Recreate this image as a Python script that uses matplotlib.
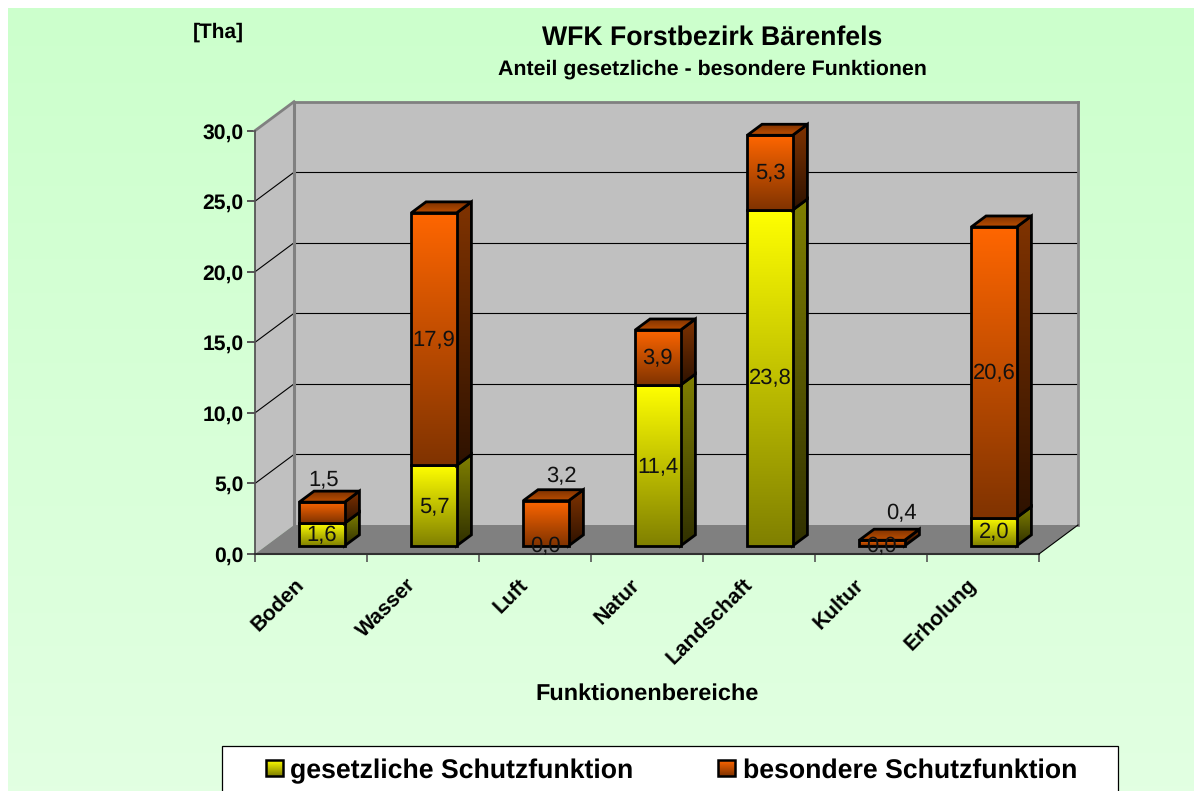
import numpy as np
import matplotlib
matplotlib.use("Agg")
import matplotlib.pyplot as plt
from matplotlib.colors import LinearSegmentedColormap
from matplotlib.patches import Polygon, Rectangle
from matplotlib.transforms import ScaledTranslation

plt.rcParams['font.family'] = ['Liberation Sans', 'DejaVu Sans']
plt.rcParams['text.hinting'] = 'no_hinting'

categories = ["Boden", "Wasser", "Luft", "Natur", "Landschaft", "Kultur", "Erholung"]
gesetzlich = [1.6, 5.7, 0.0, 11.4, 23.8, 0.0, 2.0]
besonders = [1.5, 17.9, 3.2, 3.9, 5.3, 0.4, 20.6]
label_g = ["1,6", "5,7", "0,0", "11,4", "23,8", "0,0", "2,0"]
label_b = ["1,5", "17,9", "3,2", "3,9", "5,3", "0,4", "20,6"]
yticks = [0, 5, 10, 15, 20, 25, 30]
ylabels = ["0,0", "5,0", "10,0", "15,0", "20,0", "25,0", "30,0"]
series_names = ["gesetzliche Schutzfunktion", "besondere Schutzfunktion"]
title = "WFK Forstbezirk Bärenfels"
subtitle = "Anteil gesetzliche - besondere Funktionen"
xlabel = "Funktionenbereiche"
unit = "[Tha]"

W, H = 1194, 791
fig = plt.figure(figsize=(W / 100, H / 100), dpi=100, facecolor="white")


def grad(c1, c2):
    return LinearSegmentedColormap.from_list("g", [c1, c2])


# background + page-level items, in pixel coordinates
bg = fig.add_axes([0, 0, 1, 1], zorder=0)
bg.axis("off")
bg.imshow(np.linspace(0, 1, 256).reshape(-1, 1), cmap=grad("#CCFFCC", "#E2FFE2"),
          extent=[8, W, H, 8], aspect="auto", interpolation="bilinear", origin="upper", zorder=0)
bg.text(712.5, 38, title, ha="center", va="center", fontsize=19.15, fontweight="bold")
bg.text(712, 69, subtitle, ha="center", va="center", fontsize=15.4, fontweight="bold")
bg.text(218.5, 32.5, unit, ha="center", va="center", fontsize=15, fontweight="bold")
bg.text(647, 693.5, xlabel, ha="center", va="center", fontsize=16.9, fontweight="bold")

# legend
bg.add_patch(Rectangle((222, 746), 896, 46, fc="white", ec="black", lw=0.9, zorder=1))
for x0, name, c1, c2, xt in [(266, series_names[0], "#FFFF00", "#808000", 290),
                             (718, series_names[1], "#FF6600", "#803300", 743)]:
    bg.imshow(np.linspace(0, 1, 64).reshape(-1, 1), cmap=grad(c1, c2),
              extent=[x0, x0 + 17, 776, 760], aspect="auto", origin="upper", zorder=2)
    bg.add_patch(Rectangle((x0, 760), 17, 16, fc="none", ec="black", lw=1.8, zorder=3))
    bg.text(xt, 778, name, ha="left", va="baseline", fontsize=19.2, fontweight="bold", zorder=3)
bg.set_xlim(0, W)
bg.set_ylim(H, 0)

# plot axes: the front plane of the 3-D box
X0, X1, Y0, Y30 = 255, 1039, 554, 130.7
ax = fig.add_axes([X0 / W, 1 - Y0 / H, (X1 - X0) / W, (Y0 - Y30) / H], zorder=1)
ax.patch.set_visible(False)
for s in ax.spines.values():
    s.set_visible(False)
XMAX, YMAX = len(categories), 30
DX = 39 / ((X1 - X0) / XMAX)          # depth offset in data units
DY = 29 / ((Y0 - Y30) / YMAX)


def P(x, v, d):
    return (x + d * DX, v + d * DY)


def face(points, color):
    ax.add_patch(Polygon(points, closed=True, fc=color, ec="none", clip_on=False, zorder=1))


# walls and floor
face([P(0, 0, 0), P(0, 0, 1), P(0, YMAX, 1), P(0, YMAX, 0)], "#C0C0C0")
face([P(0, 0, 1), P(XMAX, 0, 1), P(XMAX, YMAX, 1), P(0, YMAX, 1)], "#C0C0C0")
face([P(0, 0, 0), P(XMAX, 0, 0), P(XMAX, 0, 1), P(0, 0, 1)], "#808080")


def line(a, b, color="black", lw=0.8, z=2):
    ax.plot([a[0], b[0]], [a[1], b[1]], color=color, lw=lw, clip_on=False, zorder=z,
            solid_capstyle="projecting")


for v in yticks[1:-1]:
    line(P(0, v, 0), P(0, v, 1))
    line(P(0, v, 1), P(XMAX, v, 1))
line(P(0, YMAX, 0), P(0, YMAX, 1), "#808080", 2)
line(P(0, YMAX, 1), P(XMAX, YMAX, 1), "#808080", 2)
line(P(0, 0, 1), P(0, YMAX, 1), "#808080", 2.2)
line(P(XMAX, 0, 1), P(XMAX, YMAX, 1), "#808080", 2)
line(P(0, 0, 0), P(0, YMAX, 0), "#555555", 1.3, 2.5)
line(P(0, 0, 0), P(XMAX, 0, 0), "#303030", 1.5, 2.5)
line(P(XMAX, 0, 0), P(XMAX, 0, 1), "black", 0.8, 2.5)

FRONT, BACK, BW = 0.28, 0.66, 0.405


def gradient_face(points, c1, c2, z):
    pts = np.array(points)
    poly = Polygon(points, closed=True, transform=ax.transData)
    im = ax.imshow(np.linspace(0, 1, 128).reshape(-1, 1), cmap=grad(c1, c2),
                   extent=[pts[:, 0].min(), pts[:, 0].max(), pts[:, 1].min(), pts[:, 1].max()],
                   origin="upper", aspect="auto", interpolation="bilinear", zorder=z)
    im.set_clip_box(fig.bbox)
    im.set_clip_path(poly)
    ax.add_patch(Polygon(points, closed=True, fc="none", ec="black", lw=2.0,
                         joinstyle="miter", clip_on=False, zorder=z + 0.01))


def segment(i, lo, hi, colors, z):
    left, right = i + 0.5 - BW / 2, i + 0.5 + BW / 2
    # side
    gradient_face([P(right, lo, FRONT), P(right, lo, BACK), P(right, hi, BACK), P(right, hi, FRONT)],
                  colors[2], colors[3], z)
    # front
    gradient_face([P(left, lo, FRONT), P(right, lo, FRONT), P(right, hi, FRONT), P(left, hi, FRONT)],
                  colors[0], colors[1], z + 0.02)


YEL = ("#FFFF00", "#808000", "#808000", "#303000")
ORA = ("#FF6600", "#803300", "#803300", "#2E1200")

for i in range(len(categories)):
    z = 3 + i
    g, b = gesetzlich[i], besonders[i]
    left, right = i + 0.5 - BW / 2, i + 0.5 + BW / 2
    if g > 0:
        segment(i, 0, g, YEL, z)
    segment(i, g, g + b, ORA, z + 0.1)
    top = g + b
    gradient_face([P(left, top, FRONT), P(right, top, FRONT), P(right, top, BACK), P(left, top, BACK)],
                  "#7A3000", "#BC4E00", z + 0.2)

# data labels: (dx, dy) pixel shifts from the segment middle on the bar front
shift_b = {0: (2, 34), 2: (16, 48), 5: (20, 31)}
for i in range(len(categories)):
    g, b = gesetzlich[i], besonders[i]
    anchor = P(i + 0.5, g / 2, FRONT)
    ax.annotate(label_g[i], anchor, xytext=(0, -1), textcoords="offset pixels", ha="center",
                va="center", fontsize=15.8, color="#111111", zorder=30, annotation_clip=False)
    anchor = P(i + 0.5, g + b / 2, FRONT)
    sx, sy = shift_b.get(i, (0, 0))
    ax.annotate(label_b[i], anchor, xytext=(sx, sy - 1), textcoords="offset pixels", ha="center",
                va="center", fontsize=15.8, color="#111111", zorder=30, annotation_clip=False)

ax.set_xlim(0, XMAX)
ax.set_ylim(0, YMAX)
ax.set_yticks(yticks)
ax.set_yticklabels(ylabels, fontsize=15.2, fontweight="bold")
ax.tick_params(axis="y", length=5.8, width=1.4, color="#555555", pad=2.5)
ax.set_xticks(range(XMAX + 1))
ax.set_xticklabels([])
ax.tick_params(axis="x", which="major", length=5.8, width=1.2, color="#555555")
ax.set_xticks(np.arange(XMAX) + 0.5, minor=True)
ax.set_xticklabels(categories, minor=True, rotation=45, ha="right", va="top",
                   rotation_mode="anchor", fontsize=15.2, fontweight="bold")
ax.tick_params(axis="x", which="minor", length=0, pad=15)
shift = ScaledTranslation(-17 / 100, 0, fig.dpi_scale_trans)
for lab in ax.get_xticklabels(minor=True):
    lab.set_transform(lab.get_transform() + shift)

fig.savefig("out.png", dpi=100, facecolor="white")
